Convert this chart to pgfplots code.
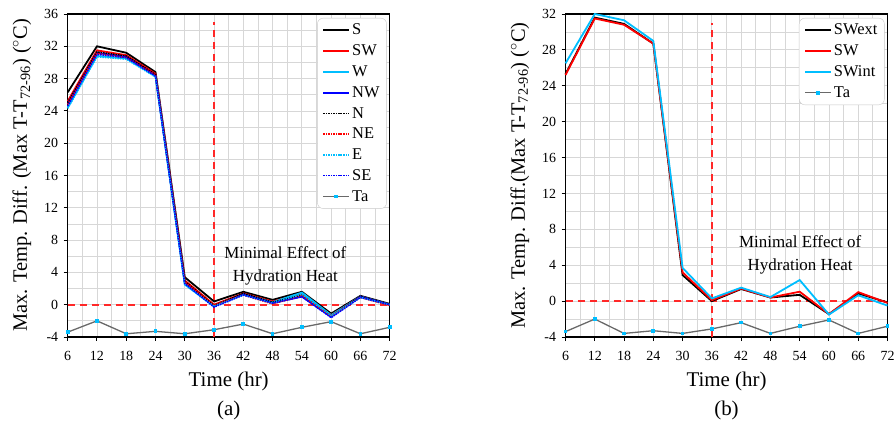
\documentclass[border=0pt]{standalone}
\usepackage{fontspec}
\setmainfont{Liberation Serif}
\usepackage{pgfplots}
\pgfplotsset{compat=1.18}

\definecolor{skyc}{RGB}{0,190,255}
\definecolor{tagray}{RGB}{105,105,105}
\definecolor{dashred}{RGB}{255,40,40}
\definecolor{gridc}{RGB}{215,215,215}
\definecolor{legc}{RGB}{200,200,200}

\pgfplotsset{
  tempax/.style={
    scale only axis, width=322bp, height=323bp,
    xmin=6, xmax=72, xtick={6,12,...,72}, minor x tick num=1,
    ymin=-4, minor y tick num=1,
    grid=both,
    grid style={gridc, line width=0.8bp},
    minor grid style={gridc, line width=0.8bp},
    axis line style={line width=1.4bp},
    tick align=outside, xtick pos=bottom, ytick pos=left,
    major tick length=4bp, minor tick length=0bp,
    tick style={black, line width=1bp},
    ticklabel style={font=\fontsize{14}{16}\selectfont},
    xticklabel style={yshift=-7bp},
    yticklabel style={xshift=-2bp},
    /pgf/number format/assume math mode=true,
    xlabel={Time (hr)},
    xlabel style={font=\fontsize{21}{24}\selectfont, at={(axis description cs:0.5,-0.139)}, anchor=center},
    ylabel style={font=\fontsize{20.5}{24}\selectfont, at={(axis description cs:-0.142,0.5)}, anchor=center},
    clip=false,
    legend cell align=left,
    legend style={at={(rel axis cs:0.991,0.988)}, anchor=north east, draw=legc,
      rounded corners=6bp, font=\fontsize{16.5}{19}\selectfont,
      row sep=4.5bp, inner xsep=5bp, inner ysep=4bp},
    legend image code/.code={\draw[mark repeat=2,mark phase=2,#1]
      plot coordinates {(0bp,0bp) (13bp,0bp) (26bp,0bp)};},
  },
  sl/.style={line width=1.8bp},
  dl/.style={line width=1.5bp, densely dotted},
  ta/.style={tagray, line width=1.3bp, mark=square*, mark size=1.2bp, mark options={skyc, solid}},
  refl/.style={dashred, line width=1.7bp, dash pattern=on 7bp off 5bp, forget plot},
}

\begin{document}
\begin{tikzpicture}
\path[use as bounding box] (0bp,0bp) rectangle (896bp,421bp);

% (a) orientations
\begin{axis}[tempax, at={(67.7bp,84bp)}, anchor=south west,
  ymax=36, ytick={-4,0,...,36},
  ylabel={Max. Temp. Diff. (Max T-T\textsubscript{72-96}) ($^{\circ}$C)}]
\addplot[refl] coordinates {(36,-4) (36,35)};
\addplot[refl] coordinates {(6,0) (72,0)};
\addplot[black, sl] coordinates {(6,26.3) (12,32.0) (18,31.2) (24,28.8) (30,3.4) (36,0.4) (42,1.6) (48,0.6) (54,1.6) (60,-1.1) (66,1.1) (72,0.1)};
\addplot[red, sl] coordinates {(6,25.2) (12,31.5) (18,30.9) (24,28.6) (30,3.0) (36,0.0) (42,1.4) (48,0.4) (54,1.3) (60,-1.3) (66,1.0) (72,0.0)};
\addplot[skyc, sl] coordinates {(6,24.4) (12,30.8) (18,30.5) (24,28.3) (30,2.5) (36,-0.2) (42,1.3) (48,0.3) (54,1.5) (60,-1.3) (66,1.0) (72,0.0)};
\addplot[blue, sl] coordinates {(6,24.9) (12,31.2) (18,30.7) (24,28.4) (30,2.7) (36,-0.2) (42,1.3) (48,0.2) (54,1.0) (60,-1.5) (66,1.0) (72,0.0)};
\addplot[black, dl] coordinates {(6,25.0) (12,31.3) (18,30.8) (24,28.5) (30,2.9) (36,-0.1) (42,1.4) (48,0.3) (54,1.2) (60,-1.4) (66,1.0) (72,0.0)};
\addplot[red, dl] coordinates {(6,24.8) (12,31.1) (18,30.6) (24,28.4) (30,2.8) (36,-0.1) (42,1.2) (48,0.1) (54,1.1) (60,-1.4) (66,0.9) (72,-0.1)};
\addplot[skyc, dl] coordinates {(6,24.3) (12,30.7) (18,30.4) (24,28.2) (30,2.5) (36,-0.2) (42,1.2) (48,0.2) (54,1.3) (60,-1.4) (66,0.9) (72,0.0)};
\addplot[blue, dl] coordinates {(6,24.6) (12,31.0) (18,30.6) (24,28.3) (30,2.6) (36,-0.3) (42,1.2) (48,0.2) (54,1.0) (60,-1.6) (66,0.9) (72,0.0)};
\addplot[ta] coordinates {(6,-3.4) (12,-2.0) (18,-3.6) (24,-3.3) (30,-3.6) (36,-3.1) (42,-2.4) (48,-3.6) (54,-2.8) (60,-2.1) (66,-3.6) (72,-2.8)};
\legend{S,SW,W,NW,N,NE,E,SE,Ta}
\node[font=\fontsize{17}{23}\selectfont, align=center] at (axis cs:50.6,4.85) {Minimal Effect of\\Hydration Heat};
\node[font=\fontsize{21}{24}\selectfont] at (axis description cs:0.5,-0.226) {(a)};
\end{axis}

% (b) south-west wall
\begin{axis}[tempax, at={(565.5bp,84bp)}, anchor=south west,
  ymax=32, ytick={-4,0,...,32},
  ylabel={Max. Temp. Diff.(Max T-T\textsubscript{72-96}) ($^{\circ}$C)}]
\addplot[refl] coordinates {(36,-4) (36,31)};
\addplot[refl] coordinates {(6,0) (72,0)};
\addplot[black, sl] coordinates {(6,25.3) (12,31.6) (18,30.9) (24,28.7) (30,2.9) (36,0.0) (42,1.35) (48,0.4) (54,0.7) (60,-1.45) (66,0.85) (72,-0.15)};
\addplot[red, sl] coordinates {(6,25.2) (12,31.5) (18,30.8) (24,28.7) (30,3.2) (36,0.1) (42,1.4) (48,0.4) (54,1.05) (60,-1.45) (66,1.0) (72,-0.2)};
\addplot[skyc, sl] coordinates {(6,26.5) (12,32.0) (18,31.3) (24,29.0) (30,3.7) (36,0.3) (42,1.5) (48,0.45) (54,2.35) (60,-1.5) (66,0.65) (72,-0.5)};
\addplot[ta] coordinates {(6,-3.4) (12,-2.0) (18,-3.6) (24,-3.3) (30,-3.6) (36,-3.1) (42,-2.4) (48,-3.6) (54,-2.8) (60,-2.1) (66,-3.6) (72,-2.8)};
\legend{SWext,SW,SWint,Ta}
\node[font=\fontsize{17}{23}\selectfont, align=center] at (axis cs:54.1,5.2) {Minimal Effect of\\Hydration Heat};
\node[font=\fontsize{21}{24}\selectfont] at (axis description cs:0.5,-0.226) {(b)};
\end{axis}
\end{tikzpicture}
\end{document}
